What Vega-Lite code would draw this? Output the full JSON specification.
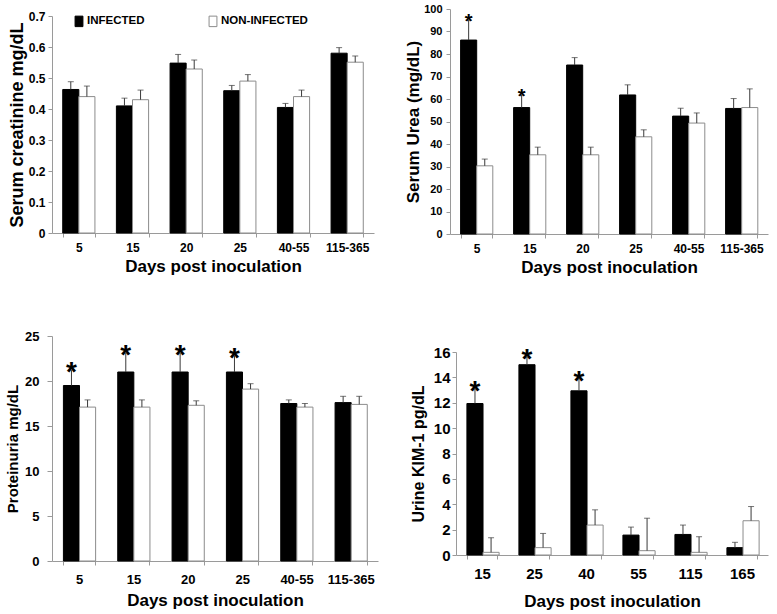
{
  "$schema": "https://vega.github.io/schema/vega-lite/v6.json",
  "background": "white",
  "padding": {"left": 5, "top": 3, "right": 3, "bottom": 3},
  "config": {
    "font": "Liberation Sans",
    "view": {"stroke": null},
    "axis": {"grid": false, "labelOverlap": false, "domainColor": "#9a9a9a", "tickColor": "#9a9a9a", "labelColor": "black", "titleColor": "black", "labelFontWeight": "bold", "titleFontWeight": "bold", "labelFont": "Liberation Sans", "titleFont": "Liberation Sans"},
    "axisX": {"tickBand": "extent", "labelAngle": 0, "tickSize": 4},
    "axisY": {"tickSize": 4},
    "legend": {"padding": 0}
  },
  "datasets": {
    "creat": [
      {"day": "5", "g": "INFECTED", "v": 0.463, "hi": 0.488},
      {"day": "5", "g": "NON-INFECTED", "v": 0.44, "hi": 0.474},
      {"day": "15", "g": "INFECTED", "v": 0.41, "hi": 0.435},
      {"day": "15", "g": "NON-INFECTED", "v": 0.43, "hi": 0.461},
      {"day": "20", "g": "INFECTED", "v": 0.548, "hi": 0.576},
      {"day": "20", "g": "NON-INFECTED", "v": 0.529, "hi": 0.558},
      {"day": "25", "g": "INFECTED", "v": 0.459, "hi": 0.476},
      {"day": "25", "g": "NON-INFECTED", "v": 0.49, "hi": 0.511},
      {"day": "40-55", "g": "INFECTED", "v": 0.405, "hi": 0.418},
      {"day": "40-55", "g": "NON-INFECTED", "v": 0.44, "hi": 0.461},
      {"day": "115-365", "g": "INFECTED", "v": 0.58, "hi": 0.598},
      {"day": "115-365", "g": "NON-INFECTED", "v": 0.551, "hi": 0.571}
    ],
    "urea": [
      {"day": "5", "g": "INFECTED", "v": 86.2, "hi": 95.1, "star": true},
      {"day": "5", "g": "NON-INFECTED", "v": 30.3, "hi": 33.3},
      {"day": "15", "g": "INFECTED", "v": 56.2, "hi": 61.8, "star": true},
      {"day": "15", "g": "NON-INFECTED", "v": 35.2, "hi": 38.6},
      {"day": "20", "g": "INFECTED", "v": 75.1, "hi": 78.4},
      {"day": "20", "g": "NON-INFECTED", "v": 35.2, "hi": 38.6},
      {"day": "25", "g": "INFECTED", "v": 61.8, "hi": 66.3},
      {"day": "25", "g": "NON-INFECTED", "v": 43.2, "hi": 46.3},
      {"day": "40-55", "g": "INFECTED", "v": 52.4, "hi": 55.9},
      {"day": "40-55", "g": "NON-INFECTED", "v": 49.3, "hi": 53.8},
      {"day": "115-365", "g": "INFECTED", "v": 55.8, "hi": 60.2},
      {"day": "115-365", "g": "NON-INFECTED", "v": 56.2, "hi": 64.5}
    ],
    "prot": [
      {"day": "5", "g": "INFECTED", "v": 19.5, "hi": 21.2, "star": true},
      {"day": "5", "g": "NON-INFECTED", "v": 17.1, "hi": 17.9},
      {"day": "15", "g": "INFECTED", "v": 21.0, "hi": 23.1, "star": true},
      {"day": "15", "g": "NON-INFECTED", "v": 17.1, "hi": 17.9},
      {"day": "20", "g": "INFECTED", "v": 21.0, "hi": 23.1, "star": true},
      {"day": "20", "g": "NON-INFECTED", "v": 17.3, "hi": 17.8},
      {"day": "25", "g": "INFECTED", "v": 21.0, "hi": 22.8, "star": true},
      {"day": "25", "g": "NON-INFECTED", "v": 19.1, "hi": 19.7},
      {"day": "40-55", "g": "INFECTED", "v": 17.5, "hi": 17.9},
      {"day": "40-55", "g": "NON-INFECTED", "v": 17.1, "hi": 17.5},
      {"day": "115-365", "g": "INFECTED", "v": 17.6, "hi": 18.3},
      {"day": "115-365", "g": "NON-INFECTED", "v": 17.4, "hi": 18.3}
    ],
    "kim": [
      {"day": "15", "g": "INFECTED", "v": 11.94, "hi": 13.09, "star": true},
      {"day": "15", "g": "NON-INFECTED", "v": 0.21, "hi": 1.36},
      {"day": "25", "g": "INFECTED", "v": 15.0, "hi": 15.6, "star": true},
      {"day": "25", "g": "NON-INFECTED", "v": 0.58, "hi": 1.7},
      {"day": "40", "g": "INFECTED", "v": 12.94, "hi": 13.9, "star": true},
      {"day": "40", "g": "NON-INFECTED", "v": 2.36, "hi": 3.56},
      {"day": "55", "g": "INFECTED", "v": 1.57, "hi": 2.2},
      {"day": "55", "g": "NON-INFECTED", "v": 0.34, "hi": 2.9},
      {"day": "115", "g": "INFECTED", "v": 1.62, "hi": 2.36},
      {"day": "115", "g": "NON-INFECTED", "v": 0.21, "hi": 1.44},
      {"day": "165", "g": "INFECTED", "v": 0.58, "hi": 1.0},
      {"day": "165", "g": "NON-INFECTED", "v": 2.7, "hi": 3.82}
    ]
  },
  "resolve": {"scale": {"fill": "independent", "stroke": "independent"}, "legend": {"fill": "independent", "stroke": "independent"}},
  "spacing": 55,
  "vconcat": [
    {
      "spacing": 30,
      "resolve": {"scale": {"fill": "independent", "stroke": "independent"}, "legend": {"fill": "independent", "stroke": "independent"}},
      "hconcat": [
        {
          "width": 322, "height": 224,
          "data": {"name": "creat"},
          "encoding": {
            "x": {"field": "day", "type": "nominal", "sort": null, "scale": {"paddingInner": 0.4, "paddingOuter": 0.2}, "axis": {"title": "Days post inoculation", "labelFontSize": 12, "titleFontSize": 17, "labelPadding": 5, "titlePadding": 5}},
            "xOffset": {"field": "g", "type": "nominal", "sort": ["INFECTED", "NON-INFECTED"]},
            "y": {"field": "v", "type": "quantitative", "scale": {"domain": [0, 0.7], "range": [224, 7], "nice": false}, "axis": {"title": "Serum creatinine mg/dL", "values": [0, 0.1, 0.2, 0.3, 0.4, 0.5, 0.6, 0.7], "format": ".1~f", "labelFontSize": 12, "titleFontSize": 18, "labelPadding": 3, "titlePadding": 2}}
          },
          "layer": [
            {
              "mark": {"type": "bar", "strokeWidth": 1},
              "encoding": {
                "fill": {"field": "g", "type": "nominal", "scale": {"domain": ["INFECTED", "NON-INFECTED"], "range": ["black", "white"]}, "legend": {"title": null, "orient": "none", "direction": "horizontal", "legendX": 21, "legendY": 6, "labelFontSize": 11.5, "labelFontWeight": "bold", "labelColor": "black", "labelOffset": 2, "columnPadding": 62, "symbolType": "M-0.75,-1H0.75V1H-0.75Z", "symbolSize": 110, "symbolStrokeColor": "#555", "symbolStrokeWidth": 1}},
                "stroke": {"field": "g", "type": "nominal", "scale": {"domain": ["INFECTED", "NON-INFECTED"], "range": ["black", "#8c8c8c"]}, "legend": null}
              }
            },
            {"mark": {"type": "rule", "color": "#3a3a3a", "strokeWidth": 1}, "encoding": {"y2": {"field": "hi"}}},
            {"mark": {"type": "tick", "color": "#3a3a3a", "thickness": 1, "size": 6}, "encoding": {"y": {"field": "hi", "type": "quantitative", "axis": {"title": "Serum creatinine mg/dL", "values": [0, 0.1, 0.2, 0.3, 0.4, 0.5, 0.6, 0.7], "format": ".1~f", "labelFontSize": 12, "titleFontSize": 18, "labelPadding": 3, "titlePadding": 2}}}}
          ]
        },
        {
          "width": 318, "height": 225,
          "data": {"name": "urea"},
          "encoding": {
            "x": {"field": "day", "type": "nominal", "sort": null, "scale": {"paddingInner": 0.4, "paddingOuter": 0.2}, "axis": {"title": "Days post inoculation", "labelFontSize": 12, "titleFontSize": 17, "labelPadding": 5, "titlePadding": 5}},
            "xOffset": {"field": "g", "type": "nominal", "sort": ["INFECTED", "NON-INFECTED"]},
            "y": {"field": "v", "type": "quantitative", "scale": {"domain": [0, 100], "nice": false}, "axis": {"title": "Serum Urea (mg/dL)", "values": [0, 10, 20, 30, 40, 50, 60, 70, 80, 90, 100], "labelFontSize": 11, "titleFontSize": 17, "labelPadding": 4, "titlePadding": 1}}
          },
          "layer": [
            {
              "mark": {"type": "bar", "strokeWidth": 1},
              "encoding": {
                "fill": {"field": "g", "type": "nominal", "scale": {"domain": ["INFECTED", "NON-INFECTED"], "range": ["black", "white"]}, "legend": null},
                "stroke": {"field": "g", "type": "nominal", "scale": {"domain": ["INFECTED", "NON-INFECTED"], "range": ["black", "#8c8c8c"]}, "legend": null}
              }
            },
            {"mark": {"type": "rule", "color": "#3a3a3a", "strokeWidth": 1}, "encoding": {"y2": {"field": "hi"}}},
            {"mark": {"type": "tick", "color": "#3a3a3a", "thickness": 1, "size": 6}, "encoding": {"y": {"field": "hi", "type": "quantitative", "axis": {"title": "Serum Urea (mg/dL)", "values": [0, 10, 20, 30, 40, 50, 60, 70, 80, 90, 100], "labelFontSize": 11, "titleFontSize": 17, "labelPadding": 4, "titlePadding": 1}}}},
            {"transform": [{"filter": "datum.star"}], "mark": {"type": "text", "text": "*", "fontSize": 20, "fontWeight": "bold", "baseline": "alphabetic", "dy": 8, "color": "black"}, "encoding": {"y": {"field": "hi", "type": "quantitative", "axis": {"title": "Serum Urea (mg/dL)", "values": [0, 10, 20, 30, 40, 50, 60, 70, 80, 90, 100], "labelFontSize": 11, "titleFontSize": 17, "labelPadding": 4, "titlePadding": 1}}}}
          ]
        }
      ]
    },
    {
      "spacing": 32,
      "resolve": {"scale": {"fill": "independent", "stroke": "independent"}, "legend": {"fill": "independent", "stroke": "independent"}},
      "hconcat": [
        {
          "width": 326, "height": 225,
          "data": {"name": "prot"},
          "encoding": {
            "x": {"field": "day", "type": "nominal", "sort": null, "scale": {"paddingInner": 0.42, "paddingOuter": 0.21}, "axis": {"title": "Days post inoculation", "labelFontSize": 13, "titleFontSize": 17, "labelPadding": 8, "titlePadding": 6}},
            "xOffset": {"field": "g", "type": "nominal", "sort": ["INFECTED", "NON-INFECTED"]},
            "y": {"field": "v", "type": "quantitative", "scale": {"domain": [0, 25], "nice": false}, "axis": {"title": "Proteinuria  mg/dL", "values": [0, 5, 10, 15, 20, 25], "labelFontSize": 13, "titleFontSize": 15, "labelPadding": 8, "tickSize": 5, "titlePadding": 4}}
          },
          "layer": [
            {
              "mark": {"type": "bar", "strokeWidth": 1},
              "encoding": {
                "fill": {"field": "g", "type": "nominal", "scale": {"domain": ["INFECTED", "NON-INFECTED"], "range": ["black", "white"]}, "legend": null},
                "stroke": {"field": "g", "type": "nominal", "scale": {"domain": ["INFECTED", "NON-INFECTED"], "range": ["black", "#8c8c8c"]}, "legend": null}
              }
            },
            {"mark": {"type": "rule", "color": "#3a3a3a", "strokeWidth": 1}, "encoding": {"y2": {"field": "hi"}}},
            {"mark": {"type": "tick", "color": "#3a3a3a", "thickness": 1, "size": 6}, "encoding": {"y": {"field": "hi", "type": "quantitative", "axis": {"title": "Proteinuria  mg/dL", "values": [0, 5, 10, 15, 20, 25], "labelFontSize": 13, "titleFontSize": 15, "labelPadding": 8, "tickSize": 5, "titlePadding": 4}}}},
            {"transform": [{"filter": "datum.star"}], "mark": {"type": "text", "text": "*", "fontSize": 28, "fontWeight": "bold", "baseline": "alphabetic", "dy": 11, "color": "black"}, "encoding": {"y": {"field": "hi", "type": "quantitative", "axis": {"title": "Proteinuria  mg/dL", "values": [0, 5, 10, 15, 20, 25], "labelFontSize": 13, "titleFontSize": 15, "labelPadding": 8, "tickSize": 5, "titlePadding": 4}}}}
          ]
        },
        {
          "width": 312, "height": 219,
          "data": {"name": "kim"},
          "encoding": {
            "x": {"field": "day", "type": "nominal", "sort": null, "scale": {"paddingInner": 0.42, "paddingOuter": 0.21}, "axis": {"title": "Days post inoculation", "labelFontSize": 15, "titleFontSize": 17, "labelPadding": 7, "titlePadding": 12}},
            "xOffset": {"field": "g", "type": "nominal", "sort": ["INFECTED", "NON-INFECTED"]},
            "y": {"field": "v", "type": "quantitative", "scale": {"domain": [0, 16], "range": [219, 16], "nice": false}, "axis": {"title": "Urine KIM-1 pg/dL", "values": [0, 2, 4, 6, 8, 10, 12, 14, 16], "labelFontSize": 15, "titleFontSize": 16, "labelPadding": 2, "titlePadding": 7}}
          },
          "layer": [
            {
              "mark": {"type": "bar", "strokeWidth": 1},
              "encoding": {
                "fill": {"field": "g", "type": "nominal", "scale": {"domain": ["INFECTED", "NON-INFECTED"], "range": ["black", "white"]}, "legend": null},
                "stroke": {"field": "g", "type": "nominal", "scale": {"domain": ["INFECTED", "NON-INFECTED"], "range": ["black", "#8c8c8c"]}, "legend": null}
              }
            },
            {"mark": {"type": "rule", "color": "#3a3a3a", "strokeWidth": 1}, "encoding": {"y2": {"field": "hi"}}},
            {"mark": {"type": "tick", "color": "#3a3a3a", "thickness": 1, "size": 6}, "encoding": {"y": {"field": "hi", "type": "quantitative", "axis": {"title": "Urine KIM-1 pg/dL", "values": [0, 2, 4, 6, 8, 10, 12, 14, 16], "labelFontSize": 15, "titleFontSize": 16, "labelPadding": 2, "titlePadding": 7}}}},
            {"transform": [{"filter": "datum.star"}], "mark": {"type": "text", "text": "*", "fontSize": 28, "fontWeight": "bold", "baseline": "alphabetic", "dy": 11, "color": "black"}, "encoding": {"y": {"field": "hi", "type": "quantitative", "axis": {"title": "Urine KIM-1 pg/dL", "values": [0, 2, 4, 6, 8, 10, 12, 14, 16], "labelFontSize": 15, "titleFontSize": 16, "labelPadding": 2, "titlePadding": 7}}}}
          ]
        }
      ]
    }
  ]
}
